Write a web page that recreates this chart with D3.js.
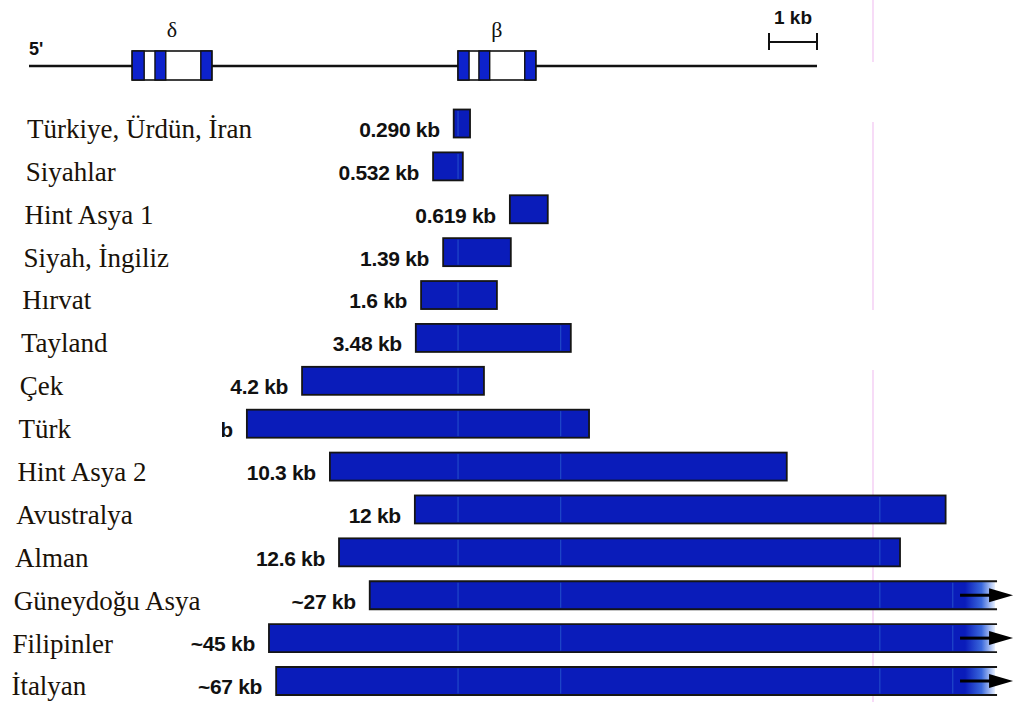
<!DOCTYPE html>
<html>
<head>
<meta charset="utf-8">
<script src="https://cdn.jsdelivr.net/npm/d3@7"></script>
<style>
  html, body { margin: 0; padding: 0; background: #fff; }
  svg { display: block; }
</style>
</head>
<body>
<svg id="chart" width="1017" height="702"></svg>
<script>
// ---- data (kb along the globin locus) ----
const categories = ["Türkiye, Ürdün, İran", "Siyahlar", "Hint Asya 1", "Siyah, İngiliz", "Hırvat",
  "Tayland", "Çek", "Türk", "Hint Asya 2", "Avustralya", "Alman", "Güneydoğu Asya", "Filipinler", "İtalyan"];
const sizeLabels = ["0.290 kb", "0.532 kb", "0.619 kb", "1.39 kb", "1.6 kb", "3.48 kb", "4.2 kb",
  "7.6 kb", "10.3 kb", "12 kb", "12.6 kb", "~27 kb", "~45 kb", "~67 kb"];
const startKb = [8.85, 8.42, 10.02, 8.63, 8.17, 8.06, 5.69, 4.54, 6.27, 8.04, 6.46, 7.10, 5.00, 5.15];
const endKb   = [9.19, 9.04, 10.81, 10.04, 9.75, 11.29, 9.48, 11.67, 15.79, 19.10, 18.15, 20.13, 20.13, 20.13];
const extendsBeyond = [false, false, false, false, false, false, false, false, false, false, false, true, true, true];

const genes = ["δ", "β"];
const geneStartKb = [2.15, 8.94];
const geneEndKb = [3.81, 10.56];
const exonStartKb = [[2.15, 2.625, 3.58], [8.94, 9.375, 10.33]];
const exonEndKb = [[2.40, 2.85, 3.81], [9.17, 9.60, 10.56]];
const locusKb = [0, 16.42];
const scaleBarKb = [15.42, 16.42];
const scaleBarLabel = "1 kb";
const endLabel = "5'";
const scanLinesKb = [8.94, 11.08, 17.73, 19.25];

// ---- layout ----
const svg = d3.select("#chart");
const W = 1017, H = 702;
svg.append("rect").attr("width", W).attr("height", H).attr("fill", "#fff");

const x = d3.scaleLinear().domain([0, 16.42]).range([29, 817]);
const y = d3.scaleBand().domain(categories).range([109.5, 695]).paddingInner(0.347).paddingOuter(0);

const BLUE = "#0a1cba";
const defs = svg.append("defs");
const grad = defs.append("linearGradient").attr("id", "fade")
  .attr("gradientUnits", "userSpaceOnUse")
  .attr("x1", x(endKb[11]) - 30).attr("x2", x(endKb[11])).attr("y1", 0).attr("y2", 0);
grad.append("stop").attr("offset", 0).attr("stop-color", BLUE);
grad.append("stop").attr("offset", 0.55).attr("stop-color", "#3a68dc");
grad.append("stop").attr("offset", 1).attr("stop-color", "#e6efff");
defs.append("clipPath").attr("id", "hideLeft").append("rect")
  .attr("x", 222).attr("y", 0).attr("width", W).attr("height", H);

// faint pink vertical line
[[0, 62], [122, 310], [370, 702]].forEach(s => {
  svg.append("line").attr("x1", 873).attr("x2", 873).attr("y1", s[0]).attr("y2", s[1])
    .attr("stroke", "#f2c4f2").attr("stroke-width", 1.2);
});

// ---- gene map ----
const gy = 66, gTop = 51, gBot = 80;
svg.append("line").attr("x1", x(locusKb[0])).attr("x2", x(locusKb[1])).attr("y1", gy).attr("y2", gy)
  .attr("stroke", "#111").attr("stroke-width", 2.6);
svg.append("text").attr("x", x(locusKb[0])).attr("y", 55).text(endLabel)
  .attr("font-family", "Liberation Sans, Arial, sans-serif").attr("font-weight", "bold")
  .attr("font-size", 18).attr("fill", "#111");

genes.forEach((g, i) => {
  const gg = svg.append("g");
  gg.append("rect").attr("x", x(geneStartKb[i])).attr("y", gTop)
    .attr("width", x(geneEndKb[i]) - x(geneStartKb[i])).attr("height", gBot - gTop)
    .attr("fill", "#fff").attr("stroke", "#111").attr("stroke-width", 1.6);
  exonStartKb[i].forEach((s, j) => {
    gg.append("rect").attr("x", x(s)).attr("y", gTop)
      .attr("width", x(exonEndKb[i][j]) - x(s)).attr("height", gBot - gTop)
      .attr("fill", "#0d22cc").attr("stroke", "#111").attr("stroke-width", 1.4);
  });
  gg.append("text").attr("x", (x(geneStartKb[i]) + x(geneEndKb[i])) / 2)
    .attr("y", 37).attr("text-anchor", "middle").text(g)
    .attr("font-family", "Liberation Serif, Times New Roman, serif")
    .attr("font-size", 22).attr("fill", "#111");
});

// scale bar
const sb = svg.append("g");
sb.append("line").attr("x1", x(scaleBarKb[0])).attr("x2", x(scaleBarKb[1])).attr("y1", 42).attr("y2", 42)
  .attr("stroke", "#111").attr("stroke-width", 2.2);
scaleBarKb.forEach(k => sb.append("line").attr("x1", x(k)).attr("x2", x(k)).attr("y1", 33).attr("y2", 50)
  .attr("stroke", "#111").attr("stroke-width", 2));
sb.append("text").attr("x", (x(scaleBarKb[0]) + x(scaleBarKb[1])) / 2).attr("y", 24)
  .attr("text-anchor", "middle").text(scaleBarLabel)
  .attr("font-family", "Liberation Sans, Arial, sans-serif").attr("font-weight", "bold")
  .attr("font-size", 19).attr("fill", "#111");

// ---- deletion bars ----
const rows = svg.append("g").selectAll("g").data(categories).join("g");

rows.each(function (c, i) {
  const g = d3.select(this);
  const y0 = y(c), h = y.bandwidth(), x0 = x(startKb[i]), x1 = x(endKb[i]);
  if (!extendsBeyond[i]) {
    g.append("rect").attr("x", x0).attr("y", y0).attr("width", x1 - x0).attr("height", h)
      .attr("fill", BLUE).attr("stroke", "#151515").attr("stroke-width", 1.8);
  } else {
    g.append("rect").attr("x", x0).attr("y", y0).attr("width", x1 - x0).attr("height", h)
      .attr("fill", "url(#fade)");
    g.append("path").attr("d", `M${x1 + 2},${y0} H${x0} V${y0 + h} H${x1 + 2}`)
      .attr("fill", "none").attr("stroke", "#151515").attr("stroke-width", 1.8);
    const cy = y0 + h / 2;
    g.append("line").attr("x1", x1 - 35).attr("x2", x1 - 4).attr("y1", cy).attr("y2", cy)
      .attr("stroke", "#000").attr("stroke-width", 3);
    g.append("path").attr("d", `M${x1 - 6},${cy - 7} L${x1 + 18},${cy} L${x1 - 6},${cy + 7} Z`)
      .attr("fill", "#000");
  }
  // faint scan lines inside bars
  scanLinesKb.forEach(k => {
    const px = x(k);
    if (px > x0 + 2 && px < x1 - 2) {
      g.append("line").attr("x1", px).attr("x2", px).attr("y1", y0 + 1.5).attr("y2", y0 + h - 1.5)
        .attr("stroke", "#4aa0e6").attr("stroke-opacity", 0.4).attr("stroke-width", 1);
    }
  });
  // size label
  const t = g.append("text").attr("x", x0 - 14).attr("y", y0 + h / 2 + 6)
    .attr("dy", "0.35em").attr("text-anchor", "end").text(sizeLabels[i])
    .attr("font-family", "Liberation Sans, Arial, sans-serif").attr("font-weight", "bold")
    .attr("font-size", 21).attr("letter-spacing", -0.3).attr("fill", "#111");
  if (c === "Türk") t.attr("clip-path", "url(#hideLeft)");
  // population label
  g.append("text").attr("x", 27 - 1.2 * i).attr("y", y0 + h / 2 + 5).attr("dy", "0.35em")
    .text(c).attr("font-family", "Liberation Serif, Times New Roman, serif")
    .attr("font-size", 27).attr("fill", "#1a1208");
});
</script>
</body>
</html>
